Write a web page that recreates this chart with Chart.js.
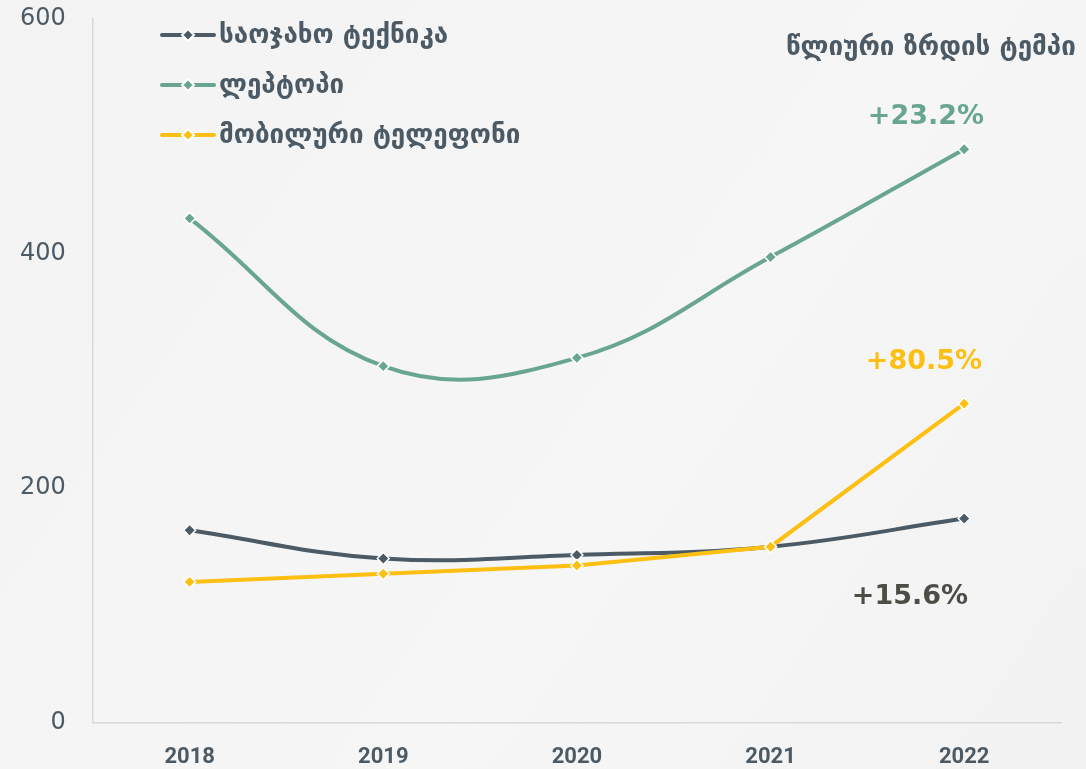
<!DOCTYPE html>
<html lang="ka">
<head>
    <meta charset="UTF-8">
    <title>წლიური ზრდის ტემპი</title>
    <script src="https://cdn.jsdelivr.net/npm/chart.js"></script>
    <style>
        html, body { margin: 0; padding: 0; overflow: hidden; background: linear-gradient(125deg, #f3f3f3 0%, #f6f6f6 60%, #f2f2f2 100%); }
        canvas { display: block; }
    </style>
</head>
<body>
    <canvas id="salesChart" width="1086" height="769"></canvas>

    <script>
        // data
        const years = ['2018', '2019', '2020', '2021', '2022'];
        const appliances = [164, 140, 143, 150, 174];   // საოჯახო ტექნიკა
        const laptops = [430, 304, 311, 397, 489];      // ლეპტოპი
        const phones = [120, 127, 134, 150, 272];       // მობილური ტელეფონი
        const seriesNames = ['საოჯახო ტექნიკა', 'ლეპტოპი', 'მობილური ტელეფონი'];
        const yTicks = [0, 200, 400, 600];

        const growthTitle = 'წლიური ზრდის ტემპი';
        const growthLabels = ['+15.6%', '+23.2%', '+80.5%'];

        const DARK = '#4b5a65';
        const GREEN = '#69a690';
        const YELLOW = '#fcbf12';
        const geo = '"DejaVu Sans", sans-serif';

        // legend drawn inside the plot, line + diamond like the original
        const legendPlugin = {
            id: 'lineLegend',
            afterDraw(chart) {
                const c = chart.ctx;
                c.save();
                chart.data.datasets.forEach((ds, i) => {
                    const y = 35 + i * 50;
                    c.strokeStyle = ds.borderColor;
                    c.lineWidth = 4;
                    c.lineCap = 'round';
                    c.beginPath();
                    c.moveTo(162, y);
                    c.lineTo(214, y);
                    c.stroke();
                    // diamond
                    c.fillStyle = ds.borderColor;
                    c.strokeStyle = '#ffffff';
                    c.lineWidth = 2;
                    c.beginPath();
                    c.moveTo(188, y - 6);
                    c.lineTo(194, y);
                    c.lineTo(188, y + 6);
                    c.lineTo(182, y);
                    c.closePath();
                    c.fill();
                    c.stroke();
                    c.fillStyle = DARK;
                    c.font = 'bold 26px ' + geo;
                    c.textBaseline = 'middle';
                    c.textAlign = 'left';
                    c.fillText(seriesNames[i], 219, y + 1);
                });
                c.restore();
            }
        };

        // growth rate texts on the right
        const growthPlugin = {
            id: 'growthText',
            afterDraw(chart) {
                const c = chart.ctx;
                c.save();
                c.textAlign = 'center';
                c.textBaseline = 'middle';
                c.fillStyle = DARK;
                c.font = 'bold 26px ' + geo;
                c.fillText(growthTitle, 931, 48);
                c.font = 'bold 27px "DejaVu Sans", sans-serif';
                c.fillStyle = '#4c4e46';
                c.fillText(growthLabels[0], 910, 597);
                c.fillStyle = GREEN;
                c.fillText(growthLabels[1], 926, 117);
                c.fillStyle = YELLOW;
                c.fillText(growthLabels[2], 924, 362);
                c.restore();
            }
        };

        function lineSet(label, data, color, tension, order) {
            return {
                label: label,
                data: data,
                borderColor: color,
                backgroundColor: color,
                borderWidth: 4,
                tension: tension,
                fill: false,
                order: order,
                pointStyle: 'rectRot',
                pointRadius: 6,
                pointBackgroundColor: color,
                pointBorderColor: '#ffffff',
                pointBorderWidth: 1.5
            };
        }

        let ctx = document.getElementById('salesChart').getContext('2d');
        let chart = new Chart(ctx, {
            type: 'line',
            data: {
                labels: years,
                datasets: [
                    lineSet(seriesNames[0], appliances, DARK, 0.4, 2),
                    lineSet(seriesNames[1], laptops, GREEN, 0.4, 1),
                    lineSet(seriesNames[2], phones, YELLOW, 0, 0)
                ]
            },
            options: {
                responsive: false,
                animation: false,
                layout: { padding: { top: 19, right: 25, left: 18, bottom: -24 } },
                plugins: {
                    legend: { display: false },
                    tooltip: { enabled: false }
                },
                scales: {
                    x: {
                        offset: true,
                        grid: { display: false, drawTicks: false },
                        border: { color: '#d8d8d8', width: 1.5 },
                        ticks: {
                            color: DARK,
                            padding: 22,
                            font: { family: '"Liberation Sans Narrow", "Roboto", sans-serif', size: 22, weight: 'bold' }
                        }
                    },
                    y: {
                        min: 0,
                        max: 600,
                        afterBuildTicks(axis) { axis.ticks = yTicks.map(v => ({ value: v })); },
                        // invisible tick marks give the gap between labels and axis
                        grid: { display: true, drawOnChartArea: false, drawTicks: true, tickLength: 25, tickColor: 'rgba(0,0,0,0)' },
                        border: { color: '#d8d8d8', width: 1.5 },
                        ticks: {
                            color: DARK,
                            padding: 2,
                            font: { family: '"DejaVu Sans", sans-serif', size: 24 }
                        }
                    }
                }
            },
            plugins: [legendPlugin, growthPlugin]
        });
    </script>
</body>
</html>
